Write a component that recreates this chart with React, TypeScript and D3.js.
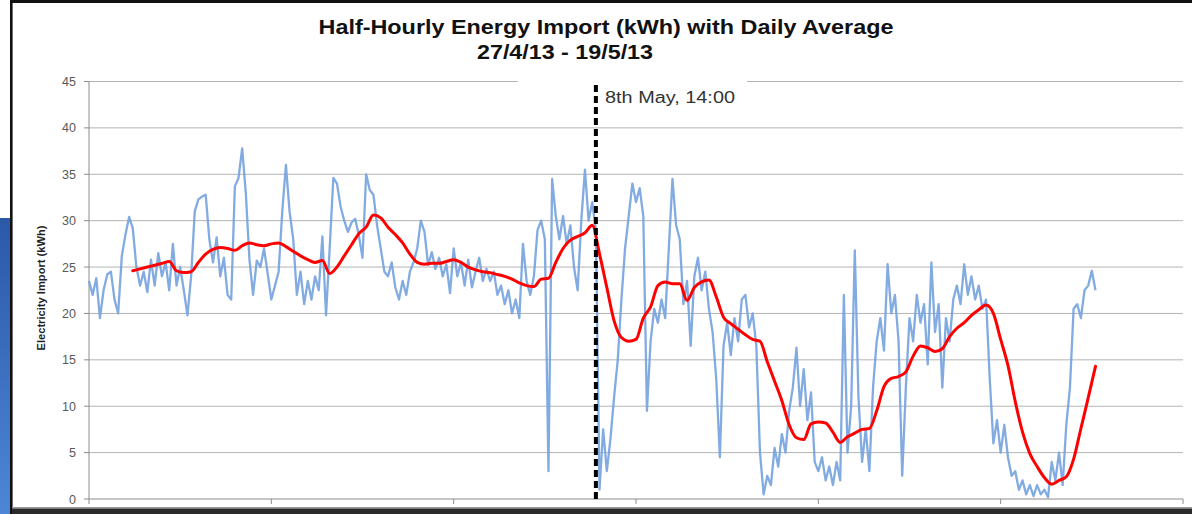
import React from 'react';
import * as d3 from 'd3';

// chart text
const titleLines = ['Half-Hourly Energy Import (kWh) with Daily Average', '27/4/13 - 19/5/13'];
const yAxisLabel = 'Electricity Import (kWh)';
const markerLabel = '8th May, 14:00';
const markerIndex = 556; // half-hour slot of 8th May 14:00 counted from 27/4 00:00

const yTicks = [0, 5, 10, 15, 20, 25, 30, 35, 40, 45];
const xTicks = [0, 200, 400, 600, 800, 1000, 1200];

// half-hourly import, one reading every 4 slots (2 hours)
const halfHourlyStep = 4;
const halfHourly = [
  23.5, 22.0, 23.8, 19.5, 22.5, 24.2, 24.5, 21.5, 20.0, 26.2,
  28.5, 30.4, 29.2, 25.0, 23.0, 24.5, 22.3, 25.8, 23.0, 26.5,
  24.0, 25.5, 22.5, 27.5, 23.0, 25.0, 22.5, 19.8, 24.0, 31.0,
  32.3, 32.6, 32.8, 28.0, 25.5, 28.2, 24.0, 26.0, 22.0, 21.5,
  33.7, 34.6, 37.8, 33.0, 25.8, 22.0, 25.7, 25.0, 27.0, 24.3,
  21.5, 23.0, 24.5, 31.0, 36.0, 31.0, 28.0, 22.0, 24.5, 21.0,
  23.5, 21.5, 24.0, 22.5, 28.3, 19.8, 27.0, 34.6, 34.0, 31.5,
  30.0, 28.8, 29.8, 30.2, 28.4, 26.0, 35.0, 33.3, 32.8, 29.5,
  27.0, 24.5, 24.0, 25.5, 22.8, 21.5, 23.5, 22.0, 24.5, 25.5,
  27.0, 30.0, 28.8, 25.2, 26.6, 24.8, 26.0, 24.0, 25.3, 22.2,
  27.0, 24.0, 25.5, 23.0, 25.8, 22.8, 24.5, 26.0, 23.5, 24.8,
  23.5, 24.5, 22.0, 23.0, 21.0, 22.5, 20.0, 21.5, 19.5, 27.5,
  23.5, 22.0, 24.0, 29.0, 30.0, 28.0, 3.0, 34.5, 30.5, 28.0,
  30.5, 27.5, 29.5, 25.0, 22.5, 30.0, 35.5, 30.0, 32.0, 29.0,
  1.0, 7.5, 3.0, 6.5, 11.0, 15.0, 21.5, 27.0, 30.5, 34.0,
  32.0, 33.5, 30.5, 9.5, 17.0, 20.5, 19.0, 21.5, 19.5, 27.0,
  34.5, 29.5, 28.0, 21.0, 23.5, 16.5, 24.0, 26.0, 22.5, 24.5,
  20.5, 18.0, 13.0, 4.5, 16.5, 19.0, 15.5, 19.5, 17.0, 21.5,
  22.0, 18.5, 20.0, 16.5, 5.0, 0.5, 2.5, 1.5, 5.5, 3.5,
  7.0, 5.0, 9.5, 12.0, 16.3, 10.0, 14.0, 8.5, 11.5, 4.0,
  3.0, 4.5, 2.0, 3.5, 1.5, 4.0, 2.0, 22.0, 5.0, 10.0,
  26.8, 11.0, 4.0, 7.5, 3.0, 12.0, 17.0, 19.5, 16.0, 25.3,
  20.0, 22.0, 17.0, 2.5, 12.0, 19.5, 17.0, 22.0, 19.0, 21.0,
  14.5, 25.5, 18.0, 21.0, 12.0, 19.5, 17.0, 21.5, 23.0, 21.0,
  25.3, 22.0, 24.0, 21.5, 23.0, 20.5, 21.5, 13.0, 6.0, 8.5,
  5.0, 8.0, 4.5, 2.5, 3.0, 1.0, 2.0, 0.5, 1.5, 0.3,
  1.5, 0.5, 1.0, 0.2, 4.0, 2.0, 5.0, 1.5, 8.0, 12.0,
  20.5, 21.0, 19.5, 22.5, 23.0, 24.6, 22.5,
];

// daily (48-slot) average, one value every 8 slots starting at slot 48
const avgStart = 48;
const avgStep = 8;
const dailyAvg = [
  24.6, 24.8, 25.0, 25.2, 25.4, 25.6, 24.6, 24.4, 24.5, 25.5,
  26.4, 26.9, 27.1, 27.0, 26.8, 27.3, 27.6, 27.4, 27.3, 27.5,
  27.6, 27.2, 26.7, 26.2, 25.8, 25.5, 25.7, 24.3, 25.0, 26.2,
  27.4, 28.6, 29.3, 30.6, 30.3, 29.3, 28.5, 27.6, 26.4, 25.5,
  25.3, 25.4, 25.4, 25.6, 25.8, 25.5, 25.0, 24.7, 24.5, 24.4,
  24.2, 24.0, 23.7, 23.3, 23.0, 22.9, 23.7, 23.8, 25.5, 27.0,
  27.9, 28.3, 28.7, 29.5, 26.4, 22.8, 19.2, 17.4, 17.0, 17.2,
  19.5, 20.7, 23.0, 23.4, 23.2, 23.2, 21.4, 22.8, 23.4, 23.6,
  21.8, 19.6, 18.9, 18.3, 17.7, 17.2, 17.0, 14.8, 12.7, 10.6,
  8.0, 6.6, 6.4, 8.1, 8.3, 8.2, 7.2, 6.1, 6.7, 7.1,
  7.5, 7.6, 9.5, 12.1, 13.0, 13.2, 13.7, 15.4, 16.5, 16.3,
  15.9, 16.2, 17.5, 18.4, 19.0, 19.8, 20.4, 20.9, 20.0, 17.2,
  14.4, 10.5, 7.2, 4.9, 3.5, 2.3, 1.6, 2.0, 2.4, 4.3,
  7.6, 10.9, 14.3,
];

const App: React.FC = () => {
  const width = 1192;
  const height = 514;

  const x = d3.scaleLinear().domain([0, 1200]).range([89, 1183]);
  const y = d3.scaleLinear().domain([0, 45]).range([499, 81.5]);

  const blueLine = d3.line<number>()
    .x((_, i) => x(i * halfHourlyStep))
    .y(d => y(d));

  const redLine = d3.line<number>()
    .x((_, i) => x(avgStart + i * avgStep))
    .y(d => y(d))
    .curve(d3.curveMonotoneX);

  const [x0, x1] = x.range();
  const font = '"Liberation Sans", Arial, sans-serif';

  return (
    <svg width={width} height={height} style={{ position: 'absolute', left: 0, top: 0 }}>
      <defs>
        <linearGradient id="sideBlue" x1="0" y1="0" x2="0" y2="1">
          <stop offset="0%" stopColor="#2c58a8" />
          <stop offset="100%" stopColor="#4d86d6" />
        </linearGradient>
      </defs>
      <rect x={0} y={0} width={width} height={height} fill="#fff" />

      {/* window frame around the chart */}
      <rect x={0} y={218} width={10} height={296} fill="url(#sideBlue)" />
      <rect x={10} y={0} width={2.6} height={height} fill="#111" />
      <rect x={10} y={0} width={width - 10} height={3} fill="#111" />
      <rect x={12} y={507} width={width - 12} height={1.5} fill="#9a9a9a" />
      <rect x={12} y={508.5} width={width - 12} height={6} fill="#2b2b2b" />

      {/* title */}
      <text x={606} y={34} textAnchor="middle" fontFamily={font} fontWeight="bold"
        fontSize={20.5} fill="#111" textLength={575} lengthAdjust="spacingAndGlyphs">{titleLines[0]}</text>
      <text x={565} y={59} textAnchor="middle" fontFamily={font} fontWeight="bold"
        fontSize={20} fill="#111" textLength={176} lengthAdjust="spacingAndGlyphs">{titleLines[1]}</text>

      {/* gridlines */}
      {yTicks.slice(1).map(t => (
        <line key={'g' + t} x1={x0} x2={x1} y1={y(t)} y2={y(t)} stroke="#b4b4b4" strokeWidth={1} />
      ))}

      {/* axes */}
      <line x1={x0} x2={x0} y1={y(45)} y2={y(0)} stroke="#8c8c8c" />
      <line x1={x0} x2={x1} y1={y(0)} y2={y(0)} stroke="#8c8c8c" />
      {yTicks.map(t => (
        <g key={'y' + t}>
          <line x1={x0 - 5} x2={x0} y1={y(t)} y2={y(t)} stroke="#8c8c8c" />
          <text x={76} y={y(t) + 4.5} textAnchor="end" fontFamily={font} fontSize={12.5} fill="#595959">{t}</text>
        </g>
      ))}
      {xTicks.map(t => (
        <line key={'x' + t} x1={x(t)} x2={x(t)} y1={y(0)} y2={y(0) + 5} stroke="#8c8c8c" />
      ))}
      <text transform="translate(45,288) rotate(-90)" textAnchor="middle" fontFamily={font}
        fontWeight="bold" fontSize={10.5} fill="#222" textLength={125} lengthAdjust="spacingAndGlyphs">{yAxisLabel}</text>

      {/* series */}
      <path d={blueLine(halfHourly) || ''} fill="none" stroke="#74a2de" strokeOpacity={0.9}
        strokeWidth={2.3} strokeLinejoin="round" />
      <path d={redLine(dailyAvg) || ''} fill="none" stroke="#ff0000" strokeWidth={3}
        strokeLinejoin="round" strokeLinecap="round" />

      {/* annotation */}
      <rect x={518} y={72} width={229} height={20} fill="#fff" />
      <line x1={x(markerIndex)} x2={x(markerIndex)} y1={85} y2={y(0)} stroke="#000"
        strokeWidth={4} strokeDasharray="7,4" />
      <text x={605} y={103} fontFamily={font} fontSize={16} fill="#333" textLength={130}
        lengthAdjust="spacingAndGlyphs">{markerLabel}</text>
    </svg>
  );
};

export default App;
